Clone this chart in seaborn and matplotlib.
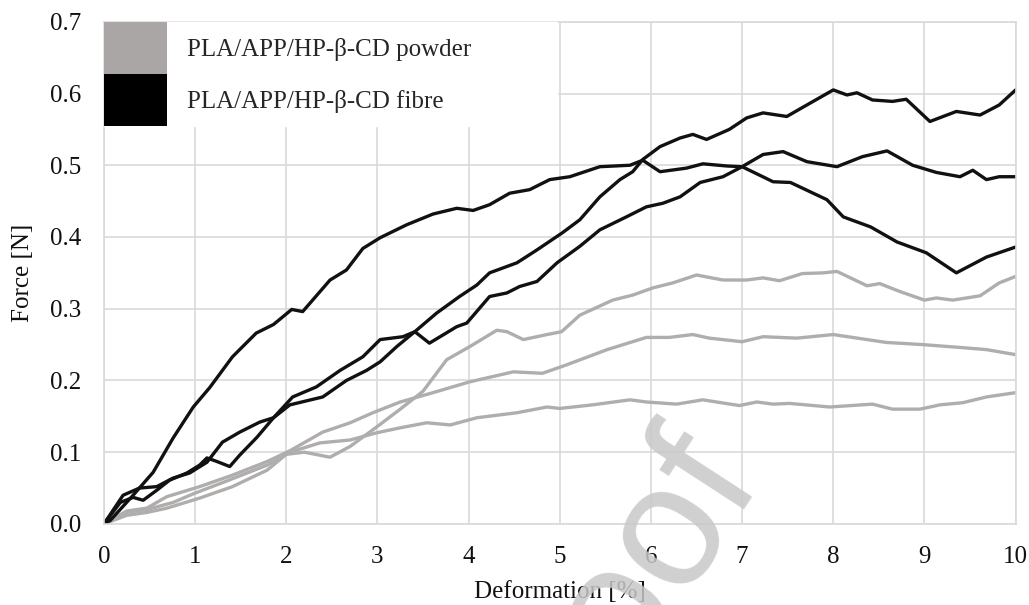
import matplotlib
matplotlib.use('Agg')
import matplotlib.pyplot as plt
from matplotlib.patches import Patch
import seaborn as sns
import pandas as pd

# powder curves (grey)
powder1_x = [0, 0.25, 0.47, 0.69, 1.05, 1.41, 1.79, 2.0, 2.2, 2.48, 2.7, 2.99, 3.25, 3.5, 3.76, 4.01, 4.31, 4.42, 4.6, 4.86,
             5.02, 5.22, 5.58, 5.8, 6.02, 6.24, 6.5, 6.79, 7.05, 7.23, 7.41, 7.66, 7.89, 8.04, 8.37, 8.51, 8.73, 9.0, 9.13, 9.31,
             9.61, 9.82, 10.0]
powder1_y = [0, 0.012, 0.016, 0.022, 0.036, 0.052, 0.075, 0.097, 0.1, 0.093, 0.108, 0.135, 0.16, 0.185, 0.229, 0.247, 0.27, 0.268, 0.257, 0.264,
             0.268, 0.291, 0.312, 0.319, 0.329, 0.336, 0.347, 0.34, 0.34, 0.343, 0.339, 0.349, 0.35, 0.352, 0.332, 0.335, 0.324, 0.312, 0.315, 0.312,
             0.318, 0.336, 0.345]

powder2_x = [0, 0.25, 0.47, 0.69, 1.05, 1.41, 1.79, 2.04, 2.4, 2.7, 2.95, 3.25, 3.61, 4.01, 4.49, 4.81, 5.08, 5.52, 5.95, 6.2,
             6.46, 6.64, 7.0, 7.23, 7.6, 8.0, 8.58, 8.98, 9.39, 9.68, 10.0]
powder2_y = [0, 0.018, 0.022, 0.038, 0.052, 0.068, 0.087, 0.102, 0.128, 0.141, 0.155, 0.17, 0.183, 0.198, 0.212, 0.21, 0.222, 0.243, 0.26, 0.26,
             0.264, 0.259, 0.254, 0.261, 0.259, 0.264, 0.253, 0.25, 0.246, 0.243, 0.236]

powder3_x = [0, 0.25, 0.47, 0.76, 0.98, 1.35, 1.79, 2.04, 2.37, 2.7, 2.99, 3.25, 3.54, 3.8, 4.09, 4.53, 4.86, 5.0, 5.36, 5.77,
             5.95, 6.28, 6.57, 6.97, 7.16, 7.34, 7.52, 7.96, 8.43, 8.65, 8.95, 9.17, 9.42, 9.68, 10.0]
powder3_y = [0, 0.016, 0.02, 0.03, 0.042, 0.06, 0.082, 0.1, 0.113, 0.117, 0.127, 0.134, 0.141, 0.138, 0.148, 0.155, 0.163, 0.161, 0.166, 0.173,
             0.17, 0.167, 0.173, 0.165, 0.17, 0.167, 0.168, 0.163, 0.167, 0.16, 0.16, 0.166, 0.169, 0.177, 0.183]

# fibre curves (black)
fibre1_x = [0, 0.07, 0.32, 0.54, 0.76, 0.98, 1.16, 1.41, 1.67, 1.86, 2.06, 2.18, 2.48, 2.66, 2.84, 3.03, 3.32, 3.61, 3.87, 4.05,
            4.23, 4.45, 4.67, 4.89, 5.11, 5.44, 5.77, 5.91, 6.1, 6.39, 6.57, 6.83, 7.0, 7.34, 7.53, 7.93, 8.11, 8.41, 8.7, 9.02,
            9.35, 9.68, 10.0]
fibre1_y = [0, 0.005, 0.04, 0.072, 0.12, 0.163, 0.19, 0.233, 0.266, 0.278, 0.299, 0.296, 0.34, 0.354, 0.384, 0.399, 0.417, 0.432, 0.44, 0.437,
            0.445, 0.461, 0.466, 0.48, 0.484, 0.498, 0.5, 0.507, 0.491, 0.496, 0.502, 0.499, 0.498, 0.477, 0.476, 0.452, 0.428, 0.414, 0.393, 0.378,
            0.35, 0.372, 0.386]

fibre2_x = [0, 0.18, 0.32, 0.43, 0.58, 0.72, 0.91, 1.05, 1.13, 1.24, 1.38, 1.49, 1.68, 1.86, 2.07, 2.33, 2.59, 2.84, 3.03, 3.28,
            3.41, 3.57, 3.87, 3.98, 4.23, 4.42, 4.56, 4.75, 4.97, 5.22, 5.44, 5.73, 5.95, 6.13, 6.32, 6.54, 6.79, 7.0, 7.23, 7.45,
            7.71, 8.04, 8.32, 8.59, 8.87, 9.13, 9.39, 9.53, 9.68, 9.82, 10.0]
fibre2_y = [0, 0.03, 0.037, 0.033, 0.047, 0.061, 0.071, 0.082, 0.092, 0.087, 0.08, 0.096, 0.121, 0.148, 0.177, 0.191, 0.214, 0.233, 0.257, 0.261,
            0.268, 0.252, 0.275, 0.28, 0.317, 0.322, 0.331, 0.338, 0.364, 0.387, 0.41, 0.428, 0.442, 0.447, 0.456, 0.476, 0.484, 0.498, 0.515, 0.519,
            0.505, 0.498, 0.512, 0.52, 0.5, 0.49, 0.484, 0.493, 0.48, 0.484, 0.484]

fibre3_x = [0, 0.21, 0.39, 0.58, 0.76, 0.94, 1.13, 1.3, 1.49, 1.71, 1.86, 2.04, 2.4, 2.66, 2.88, 3.03, 3.21, 3.41, 3.65, 3.9,
            4.09, 4.23, 4.53, 4.75, 5.03, 5.22, 5.44, 5.66, 5.8, 5.91, 6.1, 6.32, 6.46, 6.61, 6.86, 7.05, 7.23, 7.49, 7.71, 8.0,
            8.15, 8.26, 8.43, 8.65, 8.8, 9.06, 9.35, 9.61, 9.82, 10.0]
fibre3_y = [0, 0.04, 0.05, 0.052, 0.064, 0.071, 0.086, 0.114, 0.128, 0.142, 0.148, 0.166, 0.177, 0.2, 0.214, 0.226, 0.247, 0.268, 0.294, 0.317,
            0.333, 0.35, 0.364, 0.382, 0.406, 0.424, 0.456, 0.48, 0.491, 0.508, 0.526, 0.538, 0.543, 0.536, 0.55, 0.566, 0.573, 0.568, 0.584, 0.605,
            0.598, 0.601, 0.591, 0.589, 0.592, 0.561, 0.575, 0.57, 0.584, 0.605]

label_powder = 'PLA/APP/HP-β-CD powder'
label_fibre = 'PLA/APP/HP-β-CD fibre'

curves = [
    ('p1', label_powder, powder1_x, powder1_y),
    ('p2', label_powder, powder2_x, powder2_y),
    ('p3', label_powder, powder3_x, powder3_y),
    ('f1', label_fibre, fibre1_x, fibre1_y),
    ('f2', label_fibre, fibre2_x, fibre2_y),
    ('f3', label_fibre, fibre3_x, fibre3_y),
]
frames = [pd.DataFrame({'x': xs, 'y': ys, 'curve': name, 'group': grp}) for name, grp, xs, ys in curves]
df = pd.concat(frames, ignore_index=True)

grey = '#b0adad'
black = '#111111'

sns.set_style('whitegrid')
plt.rcParams['font.family'] = ['Liberation Serif', 'DejaVu Serif']

fig = plt.figure(figsize=(10.29, 6.05), dpi=100)
ax = fig.add_axes([0.101, 0.134, 0.886, 0.830])

sns.lineplot(data=df, x='x', y='y', hue='group', units='curve', estimator=None, sort=False,
             palette={label_powder: grey, label_fibre: black}, hue_order=[label_powder, label_fibre],
             linewidth=2.4, legend=False, ax=ax)

ax.set_xlim(0, 10)
ax.set_ylim(0, 0.7)
ax.set_xticks(range(0, 11))
ax.set_yticks([i / 10 for i in range(8)])
ax.set_yticklabels([f'{i / 10:.1f}' for i in range(8)])
ax.grid(True, color='#d9d9d9', linewidth=1.2)
for s in ax.spines.values():
    s.set_color('#d9d9d9')
    s.set_linewidth(1.2)
ax.tick_params(length=0, pad=16, labelsize=18, colors='#111111')
ax.set_xlabel('Deformation [%]', fontsize=18, labelpad=9, color='#111111')
ax.set_ylabel('Force [N]', fontsize=18, labelpad=12, color='#111111')

handles = [Patch(facecolor='#aaa6a6', edgecolor='none', label=label_powder),
           Patch(facecolor='#000000', edgecolor='none', label=label_fibre)]
leg = ax.legend(handles=handles, loc='upper left', bbox_to_anchor=(0, 0, 0.497, 0.999), mode='expand',
                frameon=True, fancybox=False, framealpha=1, edgecolor='white', borderpad=0,
                borderaxespad=0, handlelength=2.52, handleheight=2.82, handletextpad=0.8,
                labelspacing=0, fontsize=18)

# faint watermark
fig.text(0.589, -0.021, 'Proof', fontsize=125, family='Liberation Sans', color='#c8c8c8',
         alpha=0.85, rotation=57, ha='center', va='center', zorder=10)

fig.savefig('out.png', dpi=100)
